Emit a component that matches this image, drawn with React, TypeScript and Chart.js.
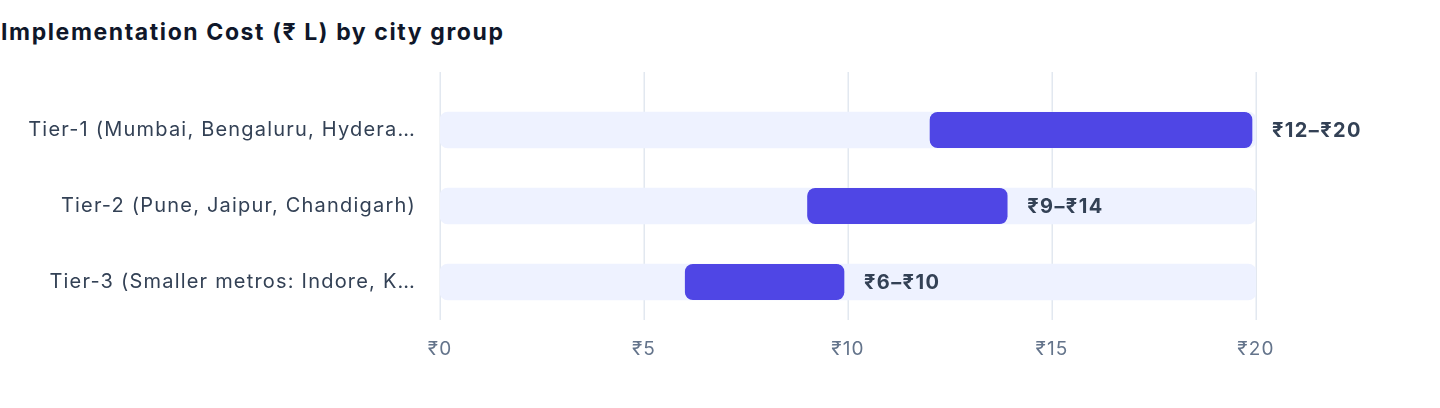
import { useEffect, useRef } from 'react';
import { Chart, registerables } from 'chart.js';

Chart.register(...registerables);

const CITY_GROUPS = [
  'Tier-1 (Mumbai, Bengaluru, Hydera…',
  'Tier-2 (Pune, Jaipur, Chandigarh)',
  'Tier-3 (Smaller metros: Indore, K…'
];
const COST_LOW = [12, 9, 6];
const COST_HIGH = [20, 14, 10];
const SCALE_MAX = 20;
const X_TICKS = [0, 5, 10, 15, 20];

const C = {
  title: '#0f172a',
  label: '#334155',
  tick: '#64748b',
  grid: '#e2e8f0',
  track: '#eef2ff',
  bar: '#4f46e5'
};

const FONT = 'Inter, "Noto Sans", sans-serif';

// the reference type runs wide, so loosen the canvas text a little
const spacing = {
  id: 'spacing',
  beforeDraw(chart: any) {
    chart.ctx.letterSpacing = '1.2px';
  }
};

// grid lines reach a bit above the first category band
const gridPlugin = {
  id: 'tallGrid',
  beforeDatasetsDraw(chart: any) {
    const { ctx, chartArea, scales } = chart;
    ctx.save();
    ctx.strokeStyle = C.grid;
    ctx.lineWidth = 1.5;
    X_TICKS.forEach((t) => {
      const x = Math.round(scales.x.getPixelForValue(t)) + 0.25;
      ctx.beginPath();
      ctx.moveTo(x, chartArea.top - 20);
      ctx.lineTo(x, chartArea.bottom);
      ctx.stroke();
    });
    ctx.restore();
  }
};

const rangeLabels = {
  id: 'rangeLabels',
  afterDatasetsDraw(chart: any) {
    const { ctx } = chart;
    const meta = chart.getDatasetMeta(0);
    ctx.save();
    ctx.letterSpacing = '1.4px';
    ctx.fillStyle = C.label;
    ctx.font = `bold 20px ${FONT}`;
    ctx.textAlign = 'left';
    ctx.textBaseline = 'middle';
    meta.data.forEach((bar: any, i: number) => {
      ctx.fillText(`₹${COST_LOW[i]}–₹${COST_HIGH[i]}`, bar.x + 16, bar.y + 1);
    });
    ctx.restore();
  }
};

export default function App() {
  const canvasRef = useRef<HTMLCanvasElement | null>(null);

  useEffect(() => {
    if (!canvasRef.current) return;
    const chart = new Chart(canvasRef.current, {
      type: 'bar',
      data: {
        labels: CITY_GROUPS,
        datasets: [
          {
            data: COST_LOW.map((lo, i) => [lo, COST_HIGH[i]]),
            backgroundColor: C.bar,
            borderColor: 'rgba(0,0,0,0)',
            borderWidth: { left: 0, top: 0, bottom: 0, right: 4 },
            borderRadius: { topLeft: 8, bottomLeft: 8, topRight: 12, bottomRight: 12 },
            borderSkipped: false,
            barThickness: 36,
            grouped: false,
            order: 1
          },
          {
            data: CITY_GROUPS.map(() => [0, SCALE_MAX]),
            backgroundColor: C.track,
            borderRadius: 8,
            borderSkipped: false,
            barThickness: 36,
            grouped: false,
            order: 2
          }
        ]
      },
      options: {
        indexAxis: 'y',
        animation: false,
        responsive: false,
        maintainAspectRatio: false,
        layout: { padding: { top: 92, right: 184, left: 0, bottom: 0 } },
        plugins: {
          legend: { display: false },
          tooltip: { enabled: false }
        },
        scales: {
          x: {
            type: 'linear',
            min: 0,
            max: SCALE_MAX,
            afterBuildTicks: (scale: any) => {
              scale.ticks = X_TICKS.map((v) => ({ value: v }));
            },
            afterFit: (scale: any) => {
              scale.height = 88;
            },
            grid: { display: false, drawTicks: false },
            border: { display: false },
            ticks: {
              color: C.tick,
              padding: 18,
              font: { family: FONT, size: 19 },
              callback: (v: any) => '₹' + v
            }
          },
          y: {
            type: 'category',
            afterFit: (scale: any) => {
              scale.width = 440;
            },
            grid: { display: false, drawTicks: false },
            border: { display: false },
            ticks: {
              color: C.label,
              padding: 24,
              font: { family: FONT, size: 20 }
            }
          }
        }
      },
      plugins: [spacing, gridPlugin, rangeLabels]
    });
    return () => chart.destroy();
  }, []);

  return (
    <div style={{ position: 'absolute', left: 0, top: 0, width: 1440, height: 408, background: '#fff' }}>
      <style>{'body{margin:0}'}</style>
      <div
        style={{
          position: 'absolute',
          left: 1,
          top: 21,
          fontFamily: FONT,
          fontWeight: 700,
          fontSize: 23,
          lineHeight: '23px',
          letterSpacing: '1.6px',
          color: C.title,
          whiteSpace: 'nowrap'
        }}
      >
        Implementation Cost (₹ L) by city group
      </div>
      <canvas ref={canvasRef} width={1440} height={408} style={{ position: 'absolute', left: 0, top: 0 }} />
    </div>
  );
}
